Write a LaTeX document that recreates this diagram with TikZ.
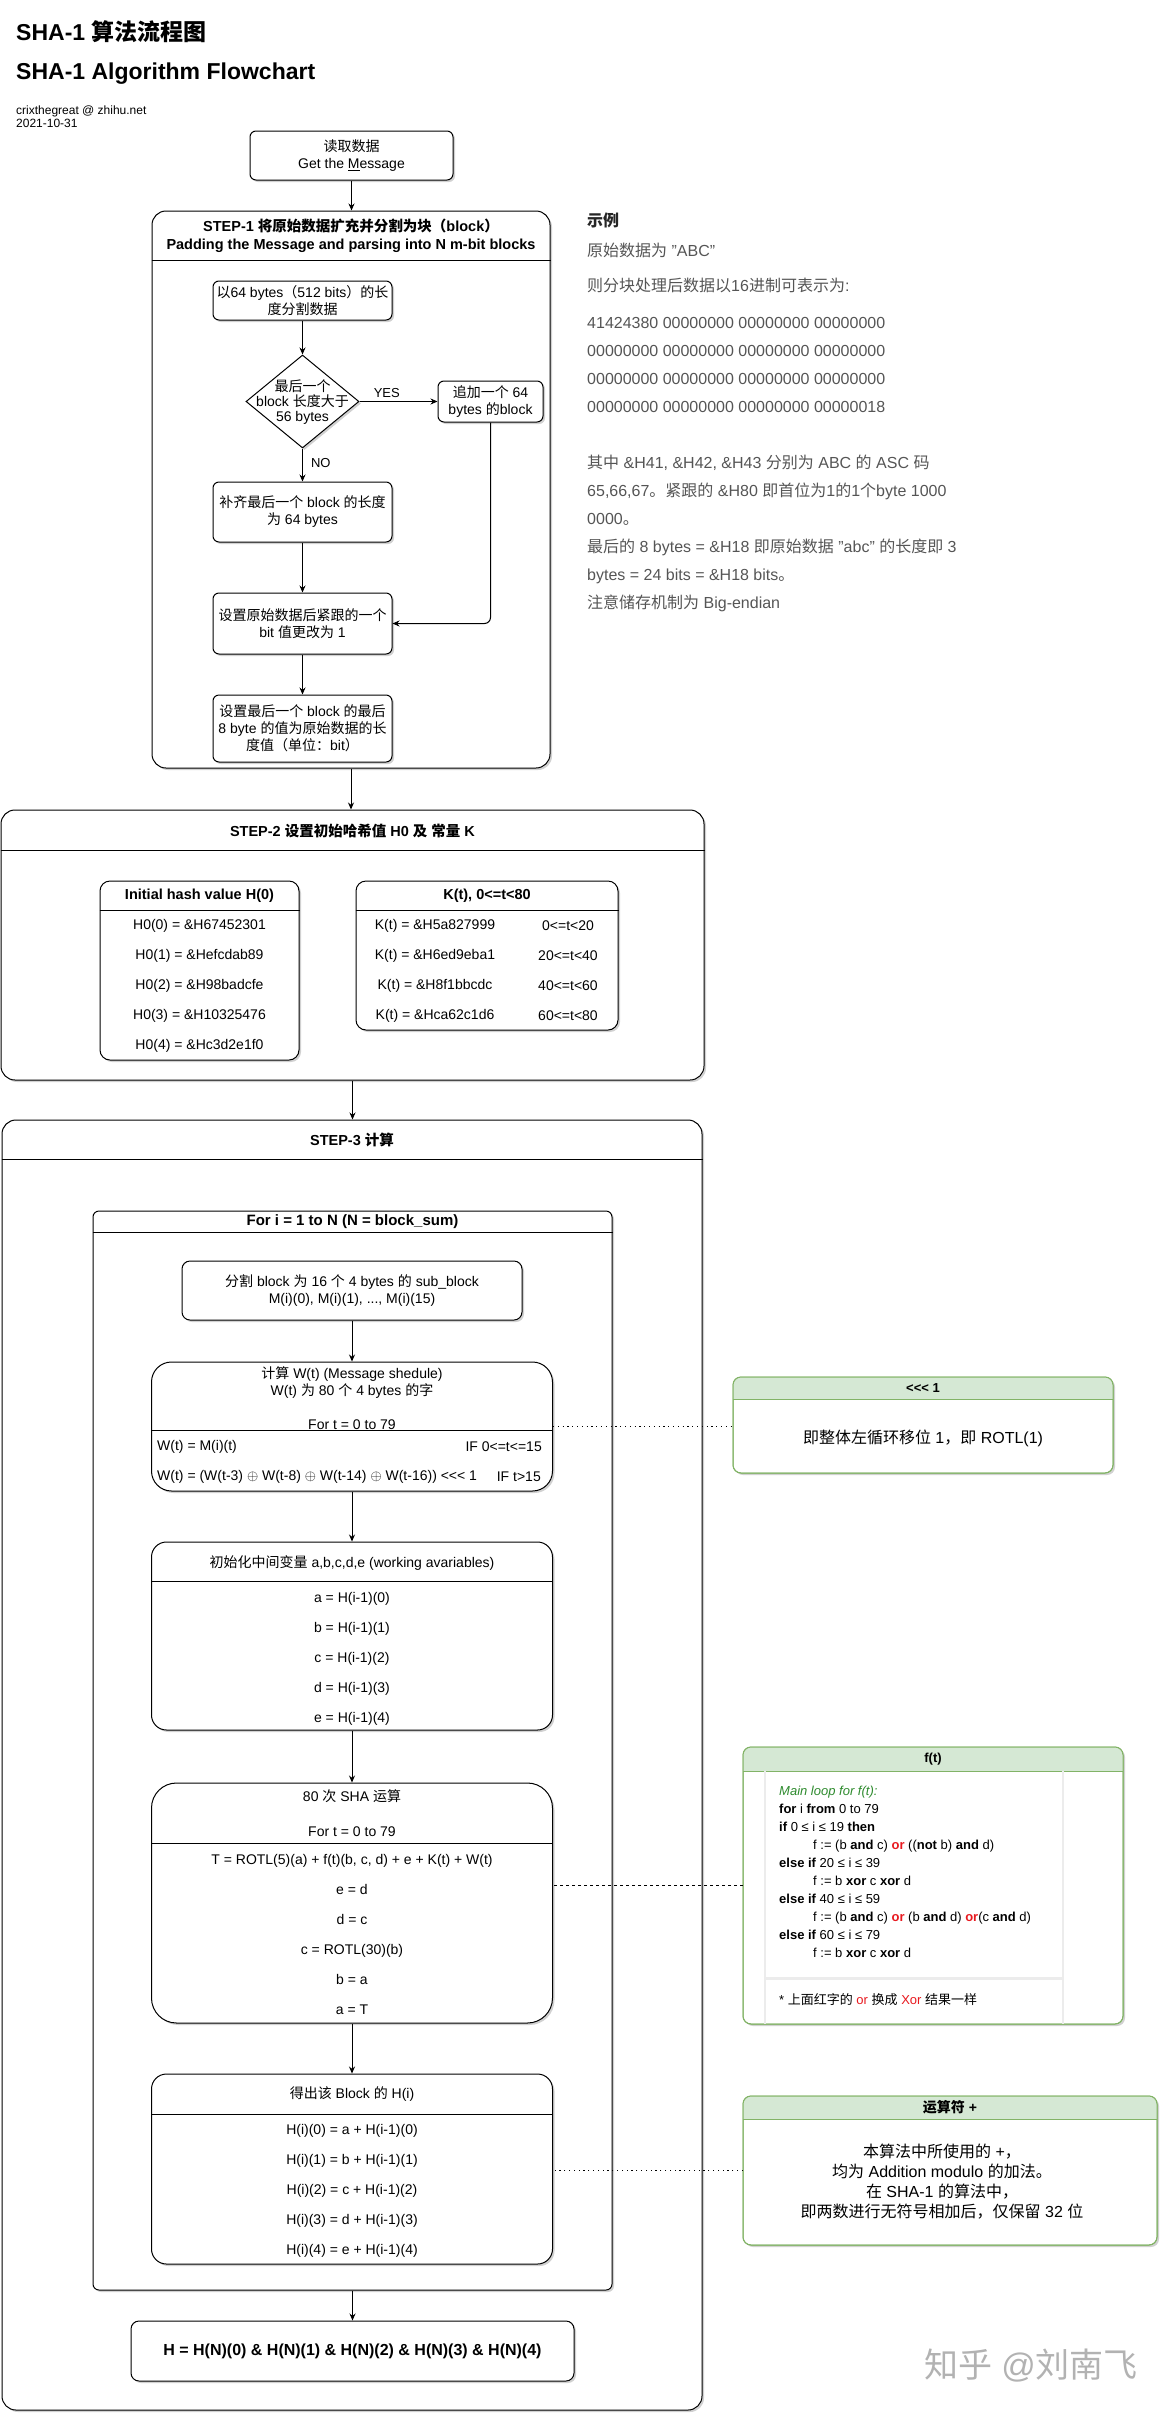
\documentclass[tikz,border=0pt]{standalone}
\usepackage{fontspec}
\setmainfont{Liberation Sans}
\newfontfamily\cjkfont{Noto Sans CJK SC}
% switch to the CJK font for Chinese characters
\XeTeXinterchartokenstate=1
\newXeTeXintercharclass\cjkclass
\newcount\cjkcode
\newcommand\cjkrange[2]{\cjkcode=#1\relax
  \loop\XeTeXcharclass\cjkcode=\cjkclass
  \ifnum\cjkcode<#2\relax\advance\cjkcode by 1\repeat}
\cjkrange{"3000}{"303F}
\cjkrange{"4E00}{"9FFF}
\cjkrange{"FF00}{"FFEF}
\XeTeXinterchartoks 0 \cjkclass = {\begingroup\cjkfont}
\XeTeXinterchartoks 4095 \cjkclass = {\begingroup\cjkfont}
\XeTeXinterchartoks \cjkclass 0 = {\endgroup}
\XeTeXinterchartoks \cjkclass 4095 = {\endgroup}

\usepackage{tikz}
\usetikzlibrary{shapes,arrows.meta,positioning,shadows}

\definecolor{notegreen}{HTML}{82B366}
\definecolor{notefill}{HTML}{D5E8D4}
\definecolor{exgray}{HTML}{555555}
\definecolor{codegreen}{HTML}{2E8B2E}
\definecolor{orred}{HTML}{E8191F}
\definecolor{panelgray}{HTML}{ECECEC}

\newcommand\boxfont{\fontsize{14}{17}\selectfont}
\newcommand\rowfont{\fontsize{14}{30}\selectfont}
\newcommand\headfont{\bfseries\fontsize{14.5}{18}\selectfont}
\newcommand\notefont{\fontsize{16}{20}\selectfont}
\newcommand\codefont{\fontsize{13}{18}\selectfont}
\newcommand\exfont{\fontsize{16}{28}\selectfont}
\newcommand\smallfont{\fontsize{12}{13}\selectfont}
\newcommand\rotl{<{}<{}<}

\tikzstyle{shadowed} = [drop shadow={shadow xshift=2pt, shadow yshift=-2pt, fill=black, opacity=0.18}]
\tikzstyle{block} = [rectangle, draw, fill=white, align=center, rounded corners=6pt,
    line width=1pt, inner sep=0pt, font=\boxfont, shadowed]
\tikzstyle{lane} = [rectangle, draw, fill=white, rounded corners=14pt,
    line width=1pt, inner sep=0pt, shadowed]
\tikzstyle{decision} = [diamond, draw, fill=white, line width=1pt, inner sep=0pt,
    minimum width=113pt, minimum height=93pt, shadowed]
\tikzstyle{note} = [rectangle, draw=notegreen, fill=white, rounded corners=8pt,
    line width=1pt, inner sep=0pt, outer sep=0pt, shadowed]
\tikzstyle{txt} = [inner sep=0pt, align=center, font=\boxfont]
\tikzstyle{rows} = [inner sep=0pt, align=center, font=\rowfont]
\tikzstyle{head} = [inner sep=0pt, align=center, font=\headfont]
\tikzstyle{titletext} = [anchor=west, inner sep=0pt, font=\bfseries\fontsize{23}{28}\selectfont]
\tikzstyle{example} = [anchor=west, inner sep=0pt, align=left, font=\exfont, text=exgray]
\tikzstyle{code} = [anchor=west, inner sep=0pt, align=left, font=\codefont]
\tikzstyle{flow} = [draw, line width=1pt, -{Stealth[length=7pt, width=6pt]}]
\tikzstyle{dotline} = [draw, line width=1.2pt, dash pattern=on 1.2pt off 3.6pt]
\tikzstyle{dashline} = [draw, line width=0.8pt, dash pattern=on 3pt off 3pt]

% green header of a note
\newcommand{\notehead}[2]{%
  \begin{scope}
    \clip [rounded corners=8pt] (#1.south west) rectangle (#1.north east);
    \fill [notefill] (#1.north west) rectangle ([yshift=-#2]#1.north east);
  \end{scope}
  \draw [notegreen, line width=1pt] ([yshift=-#2]#1.north west) -- ([yshift=-#2]#1.north east);
  \draw [notegreen, line width=1pt, rounded corners=8pt] (#1.south west) rectangle (#1.north east);}

\begin{document}
\begin{tikzpicture}[x=1pt, y=-1pt]
  \useasboundingbox (0,0) rectangle (1169,2422);

  \node [titletext] (title) at (16,32) {SHA-1 算法流程图};
  \node [titletext] (subtitle) at (16,74) {SHA-1 Algorithm Flowchart};
  \node [anchor=north west, inner sep=0pt, align=left, font=\smallfont] (author) at (16,106) {crixthegreat @ zhihu.net\\2021-10-31};

  \node [block, minimum width=203pt, minimum height=49pt] (msg) at (351.5,155.5) {读取数据\\Get the \underline{M}essage};

  % STEP-1
  \node [lane, minimum width=398pt, minimum height=557pt] (step1) at (351,489.5) {};
  \draw [line width=1pt] ([yshift=-50pt]step1.north west) -- ([yshift=-50pt]step1.north east);
  \node [head] (step1head) at ([yshift=-25pt]step1.north) {STEP-1 将原始数据扩充并分割为块（block）\\Padding the Message and parsing into N m-bit blocks};

  \node [block, minimum width=179pt, minimum height=39pt] (chunk) at (302.5,300.5) {以64 bytes（512 bits）的长\\度分割数据};
  \node [decision, below=34pt of chunk] (check) {};
  \node [txt, font=\fontsize{14}{15}\selectfont] (checktext) at ([yshift=-1pt]check.center) {最后一个\\block 长度大于\\56 bytes};
  \node [block, minimum width=105pt, minimum height=41pt, right=78pt of check] (addblk) {追加一个 64\\bytes 的block};
  \node [block, minimum width=179pt, minimum height=60pt, below=33pt of check] (pad) {补齐最后一个 block 的长度\\为 64 bytes};
  \node [block, minimum width=179pt, minimum height=61pt, below=50pt of pad] (setbit) {设置原始数据后紧跟的一个\\bit 值更改为 1};
  \node [block, minimum width=179pt, minimum height=67pt, below=40pt of setbit] (setlen) {设置最后一个 block 的最后\\8 byte 的值为原始数据的长\\度值（单位：bit）};

  \draw [flow] (msg.south) -- (msg.south |- step1.north);
  \draw [flow] (chunk) -- (check);
  \draw [flow] (check) -- node [above=3pt, pos=.35, inner sep=0pt, font=\fontsize{13}{13}\selectfont] (yes) {YES} (addblk);
  \draw [flow] (check) -- node [right=8pt, pos=.45, inner sep=0pt, font=\fontsize{13}{13}\selectfont] (no) {NO} (pad);
  \draw [flow, rounded corners=6pt] (addblk) |- (setbit);
  \draw [flow] (pad) -- (setbit);
  \draw [flow] (setbit) -- (setlen);

  % example
  \node [example, text=black!85] (exhead) at (587,220) {\textbf{示例}};
  \node [example] (exdata) at (587,250) {原始数据为 "ABC"};
  \node [example] (exsay) at (587,285) {则分块处理后数据以16进制可表示为:};
  \node [example] (exhex) at (587,365) {41424380 00000000 00000000 00000000\\00000000 00000000 00000000 00000000\\00000000 00000000 00000000 00000000\\00000000 00000000 00000000 00000018};
  \node [example] (exnote) at (587,533) {其中 \&H41, \&H42, \&H43 分别为 ABC 的 ASC 码\\65,66,67。紧跟的 \&H80 即首位为1的1个byte 1000\\0000。\\最后的 8 bytes = \&H18 即原始数据 "abc" 的长度即 3\\bytes = 24 bits = \&H18 bits。\\注意储存机制为 Big-endian};

  % STEP-2
  \node [lane, minimum width=703pt, minimum height=270pt] (step2) at (352.5,945) {};
  \draw [line width=1pt] ([yshift=-41pt]step2.north west) -- ([yshift=-41pt]step2.north east);
  \node [head] (step2head) at ([yshift=-21pt]step2.north) {STEP-2 设置初始哈希值 H0 及 常量 K};
  \draw [flow] (step1.south) -- (step1.south |- step2.north);

  \node [lane, rounded corners=10pt, minimum width=199pt, minimum height=179pt] (hinit) at (199.5,970.5) {};
  \draw [line width=1pt] ([yshift=-30pt]hinit.north west) -- ([yshift=-30pt]hinit.north east);
  \node [head] (hinithead) at ([yshift=-15pt]hinit.north) {Initial hash value H(0)};
  \node [rows] (hinitrows) at ([yshift=-105pt]hinit.north) {H0(0) = \&H67452301\\H0(1) = \&Hefcdab89\\H0(2) = \&H98badcfe\\H0(3) = \&H10325476\\H0(4) = \&Hc3d2e1f0};

  \node [lane, rounded corners=10pt, minimum width=262pt, minimum height=149pt] (kconst) at (487,955.5) {};
  \draw [line width=1pt] ([yshift=-30pt]kconst.north west) -- ([yshift=-30pt]kconst.north east);
  \node [head] (kconsthead) at ([yshift=-15pt]kconst.north) {K(t), 0<=t<80};
  \node [rows] (kvalues) at ([xshift=-52pt, yshift=-90pt]kconst.north) {K(t) = \&H5a827999\\K(t) = \&H6ed9eba1\\K(t) = \&H8f1bbcdc\\K(t) = \&Hca62c1d6};
  \node [rows] (kranges) at ([xshift=81pt, yshift=-90pt]kconst.north) {0<=t<20\\20<=t<40\\40<=t<60\\60<=t<80};

  % STEP-3
  \node [lane, minimum width=700pt, minimum height=1290pt] (step3) at (352,1765) {};
  \draw [line width=1pt] ([yshift=-40pt]step3.north west) -- ([yshift=-40pt]step3.north east);
  \node [head] (step3head) at ([yshift=-20pt]step3.north) {STEP-3 计算};
  \draw [flow] (step2.south) -- (step2.south |- step3.north);

  \node [lane, rounded corners=6pt, minimum width=519pt, minimum height=1079pt] (loop) at (352.5,1750.5) {};
  \draw [line width=1pt] ([yshift=-22pt]loop.north west) -- ([yshift=-22pt]loop.north east);
  \node [head, font=\bfseries\fontsize{15}{18}\selectfont] (loophead) at ([yshift=-11pt]loop.north) {For i = 1 to N (N = block\_sum)};

  \node [block, rounded corners=8pt, minimum width=340pt, minimum height=59pt] (split) at (352,1290.5) {分割 block 为 16 个 4 bytes 的 sub\_block\\M(i)(0), M(i)(1), ..., M(i)(15)};

  \node [lane, rounded corners=20pt, minimum width=401pt, minimum height=129pt, below=41pt of split] (wsched) {};
  \draw [line width=1pt] ([yshift=-69pt]wsched.north west) -- ([yshift=-69pt]wsched.north east);
  \node [txt] (wschedhead) at ([yshift=-36.5pt]wsched.north) {计算 W(t) (Message shedule)\\W(t) 为 80 个 4 bytes 的字\\\mbox{}\\For t = 0 to 79};
  \node [txt, anchor=west] (wfirst) at ([xshift=6pt, yshift=-85pt]wsched.north west) {W(t) = M(i)(t)};
  \node [txt, anchor=east] (wfirstif) at ([xshift=-11pt, yshift=-85pt]wsched.north east) {IF 0<=t<=15};
  \node [txt, anchor=west] (wrest) at ([xshift=6pt, yshift=-115pt]wsched.north west) {W(t) = (W(t-3) $\oplus$ W(t-8) $\oplus$ W(t-14) $\oplus$ W(t-16)) \rotl\ 1};
  \node [txt, anchor=east] (wrestif) at ([xshift=-12pt, yshift=-115pt]wsched.north east) {IF t>15};

  \node [lane, rounded corners=15pt, minimum width=401pt, minimum height=188pt, below=50pt of wsched] (initvar) {};
  \draw [line width=1pt] ([yshift=-40pt]initvar.north west) -- ([yshift=-40pt]initvar.north east);
  \node [txt] (initvarhead) at ([yshift=-21pt]initvar.north) {初始化中间变量 a,b,c,d,e (working avariables)};
  \node [rows] (initvarrows) at ([yshift=-117pt]initvar.north) {a = H(i-1)(0)\\b = H(i-1)(1)\\c = H(i-1)(2)\\d = H(i-1)(3)\\e = H(i-1)(4)};

  \node [lane, rounded corners=25pt, minimum width=401pt, minimum height=240pt, below=52pt of initvar] (rounds) {};
  \draw [line width=1pt] ([yshift=-61pt]rounds.north west) -- ([yshift=-61pt]rounds.north east);
  \node [txt, font=\fontsize{14}{17.5}\selectfont] (roundshead) at ([yshift=-30.5pt]rounds.north) {80 次 SHA 运算\\\mbox{}\\For t = 0 to 79};
  \node [rows] (roundsrows) at ([yshift=-152pt]rounds.north) {T = ROTL(5)(a) + f(t)(b, c, d) + e + K(t) + W(t)\\e = d\\d = c\\c = ROTL(30)(b)\\b = a\\a = T};

  \node [lane, rounded corners=15pt, minimum width=401pt, minimum height=190pt, below=50pt of rounds] (hout) {};
  \draw [line width=1pt] ([yshift=-41pt]hout.north west) -- ([yshift=-41pt]hout.north east);
  \node [txt] (houthead) at ([yshift=-21pt]hout.north) {得出该 Block 的 H(i)};
  \node [rows] (houtrows) at ([yshift=-117pt]hout.north) {H(i)(0) = a + H(i-1)(0)\\H(i)(1) = b + H(i-1)(1)\\H(i)(2) = c + H(i-1)(2)\\H(i)(3) = d + H(i-1)(3)\\H(i)(4) = e + H(i-1)(4)};

  \node [block, rounded corners=8pt, minimum width=443pt, minimum height=60pt, below=30pt of loop, font=\bfseries\fontsize{16}{19}\selectfont] (result) {H = H(N)(0) \& H(N)(1) \& H(N)(2) \& H(N)(3) \& H(N)(4)};

  \draw [flow] (split) -- (wsched);
  \draw [flow] (wsched) -- (initvar);
  \draw [flow] (initvar) -- (rounds);
  \draw [flow] (rounds) -- (hout);
  \draw [flow] (loop.south) -- (loop.south |- result.north);

  % notes
  \node [note, minimum width=380pt, minimum height=96pt] (rotnote) at (923,1425) {};
  \notehead{rotnote}{22pt}
  \node [head, font=\bfseries\fontsize{13}{16}\selectfont] (rothead) at ([yshift=-11pt]rotnote.north) {\rotl\ 1};
  \node [txt, font=\notefont] (rotbody) at ([yshift=-61pt]rotnote.north) {即整体左循环移位 1，即 ROTL(1)};

  \node [note, minimum width=380pt, minimum height=277pt] (fnote) at (933,1885.5) {};
  \notehead{fnote}{24pt}
  \draw [panelgray, line width=1.2pt] ([xshift=22pt, yshift=-24pt]fnote.north west) -- ([xshift=22pt]fnote.south west);
  \draw [panelgray, line width=1.2pt] ([xshift=-60pt, yshift=-24pt]fnote.north east) -- ([xshift=-60pt]fnote.south east);
  \draw [panelgray, line width=3pt] ([xshift=22pt, yshift=-231pt]fnote.north west) -- ([xshift=-60pt, yshift=-231pt]fnote.north east);
  \node [head, font=\bfseries\fontsize{13}{16}\selectfont] (fhead) at ([yshift=-12pt]fnote.north) {f(t)};
  \node [code] (fcode) at ([xshift=36pt, yshift=-125pt]fnote.north west) {{\color{codegreen}\itshape Main loop for f(t):}\\
    \textbf{for} i \textbf{from} 0 to 79\\
    \textbf{if} 0 ≤ i ≤ 19 \textbf{then}\\
    \hspace*{34pt}f := (b \textbf{and} c) {\color{orred}\textbf{or}} ((\textbf{not} b) \textbf{and} d)\\
    \textbf{else if} 20 ≤ i ≤ 39\\
    \hspace*{34pt}f := b \textbf{xor} c \textbf{xor} d\\
    \textbf{else if} 40 ≤ i ≤ 59\\
    \hspace*{34pt}f := (b \textbf{and} c) {\color{orred}\textbf{or}} (b \textbf{and} d) {\color{orred}\textbf{or}}(c \textbf{and} d)\\
    \textbf{else if} 60 ≤ i ≤ 79\\
    \hspace*{34pt}f := b \textbf{xor} c \textbf{xor} d};
  \node [code] (ffoot) at ([xshift=36pt, yshift=-253pt]fnote.north west) {* 上面红字的 {\color{orred}or} 换成 {\color{orred}Xor} 结果一样};

  \node [note, minimum width=414pt, minimum height=149pt] (addnote) at (950,2170.5) {};
  \notehead{addnote}{23pt}
  \node [head, font=\bfseries\fontsize{14}{16}\selectfont] (addhead) at ([yshift=-11.5pt]addnote.north) {运算符 +};
  \node [txt, font=\notefont] (addbody) at ([xshift=-8pt, yshift=-86pt]addnote.north) {本算法中所使用的 +，\\均为 Addition modulo 的加法。\\在 SHA-1 的算法中，\\即两数进行无符号相加后，仅保留 32 位};

  \draw [dotline] (wsched.east) -- (wsched.east -| rotnote.west);
  \draw [dashline] (fnote.west) -- (fnote.west -| rounds.east);
  \draw [dotline] (addnote.west) -- (addnote.west -| hout.east);

  \node [inner sep=0pt, text=black!30, font=\fontsize{34}{34}\selectfont] (mark) at (1031,2366) {知乎 @刘南飞};
\end{tikzpicture}
\end{document}
